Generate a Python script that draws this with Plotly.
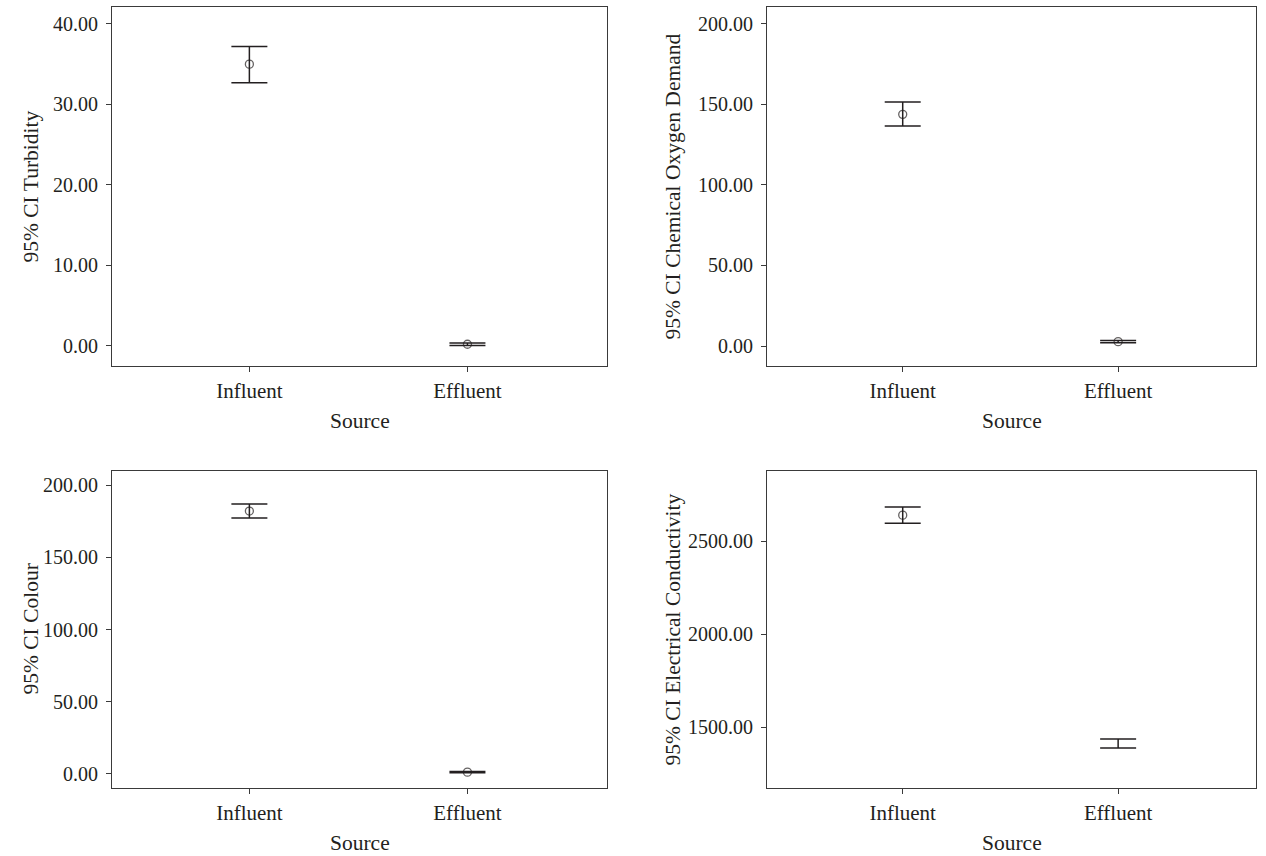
import plotly.graph_objects as go

# Group labels shared by every panel
sources = ["Influent", "Effluent"]

# Mean and 95% confidence limits for each water-quality parameter
turbidity_mean = [35.0, 0.20]
turbidity_low = [32.7, 0.05]
turbidity_high = [37.2, 0.35]

cod_mean = [143.7, 2.7]
cod_low = [136.5, 2.1]
cod_high = [151.4, 3.4]

colour_mean = [182.2, 1.0]
colour_low = [177.3, 0.6]
colour_high = [187.1, 1.4]

ec_mean = [2640.0, 1412.0]
ec_low = [2597.0, 1388.0]
ec_high = [2684.0, 1436.0]

# Axis ticks
turbidity_ticks = [0, 10, 20, 30, 40]
cod_ticks = [0, 50, 100, 150, 200]
colour_ticks = [0, 50, 100, 150, 200]
ec_ticks = [1500, 2000, 2500]

W, H = 1266, 856
INK = "#231f20"
TICK_FONT = dict(family="Liberation Serif", size=20, color=INK)
XTICK_FONT = dict(family="Liberation Serif", size=21, color=INK)
TITLE_FONT = dict(family="Liberation Serif", size=21.5, color=INK)
FRAME = "#3a3a3a"

# Plot frames in pixels: (left, right, top, bottom) and y-title centre x
frames = [
    (112, 607, 7, 366, 30),
    (767, 1256, 7, 366, 672),
    (112, 607, 471, 788, 30),
    (767, 1256, 471, 788, 672),
]

panels = [
    ("95% CI Turbidity", turbidity_mean, turbidity_low, turbidity_high,
     turbidity_ticks, [-2.5, 42.1], [True, True]),
    ("95% CI Chemical Oxygen Demand", cod_mean, cod_low, cod_high,
     cod_ticks, [-12.4, 210.3], [True, True]),
    ("95% CI Colour", colour_mean, colour_low, colour_high,
     colour_ticks, [-10, 210], [True, True]),
    ("95% CI Electrical Conductivity", ec_mean, ec_low, ec_high,
     ec_ticks, [1172.5, 2877.5], [True, False]),
]

fig = go.Figure()
annotations = []

for i, ((l, r, t, b, tx), (title, mean, low, high, ticks, yr, show_mean)) in enumerate(zip(frames, panels)):
    n = "" if i == 0 else str(i + 1)
    xa, ya = "x" + n, "y" + n
    plus = [h - m for h, m in zip(high, mean)]
    minus = [m - lo for m, lo in zip(mean, low)]
    fig.add_trace(go.Scatter(
        x=sources, y=mean, xaxis=xa, yaxis=ya, mode="markers",
        marker=dict(symbol="circle-open", size=[8 if s else 0 for s in show_mean],
                    color=INK, line=dict(width=1.3, color=INK)),
        error_y=dict(type="data", symmetric=False, array=plus, arrayminus=minus,
                     color=INK, thickness=1.5, width=18),
        showlegend=False, hoverinfo="x+y",
    ))
    xdom = [l / W, r / W]
    ydom = [1 - b / H, 1 - t / H]
    axis_common = dict(showline=True, mirror=True, linecolor=FRAME, linewidth=1,
                       ticks="outside", ticklen=5, tickcolor=FRAME, tickwidth=1,
                       showgrid=False, zeroline=False)
    fig.update_layout({
        "xaxis" + n: dict(domain=xdom, anchor=ya, type="category",
                          range=[-0.63, 1.64], ticklabelstandoff=1,
                          tickfont=XTICK_FONT, **axis_common),
        "yaxis" + n: dict(domain=ydom, anchor=xa, range=yr, tickvals=ticks,
                          tickformat=".2f", ticklabelstandoff=4,
                          tickfont=TICK_FONT, **axis_common),
    })
    # y-axis title
    annotations.append(dict(
        text=title, textangle=-90, xref="paper", yref="paper",
        x=tx / W, y=1 - (t + b) / 2 / H, showarrow=False,
        xanchor="center", yanchor="middle", font=TITLE_FONT))
    # x-axis title
    annotations.append(dict(
        text="Source", xref="paper", yref="paper",
        x=(l + r) / 2 / W, y=1 - (b + 55) / H, showarrow=False,
        xanchor="center", yanchor="middle", font=TITLE_FONT))

fig.update_layout(
    width=W, height=H, margin=dict(l=0, r=0, t=0, b=0),
    paper_bgcolor="white", plot_bgcolor="white",
    font=TICK_FONT, annotations=annotations,
)

fig.write_html("out.html")
